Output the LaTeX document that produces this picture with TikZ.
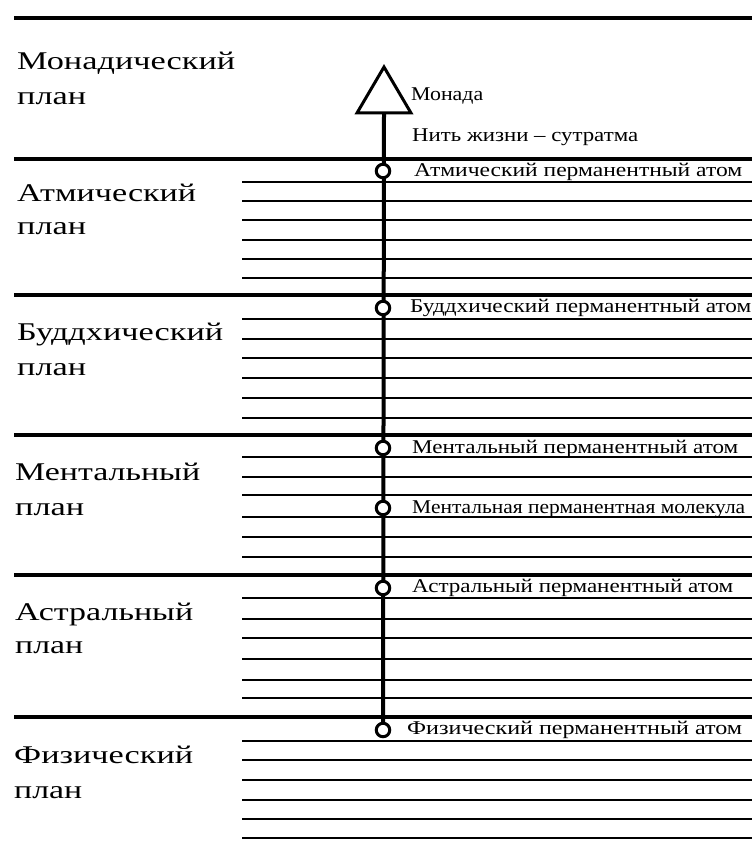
\documentclass[tikz,border=0pt]{standalone}
\usepackage{fontspec}
\setmainfont{Liberation Serif}
\usepackage{graphicx}
\newcommand{\fitw}[2]{\resizebox{#1pt}{\height}{#2}}
\begin{document}
\begin{tikzpicture}[x=1pt,y=-1pt,
  mainline/.style={line width=3.6pt},
  subline/.style={line width=2.7pt},
  thread/.style={line width=4pt},
  atom/.style={circle,draw,fill=white,line width=3pt,minimum size=13.5pt,inner sep=0pt},
  tri/.style={line width=3pt,line join=miter},
  planlabel/.style={anchor=base west,inner sep=0pt,font=\fontsize{25.5}{30}\selectfont},
  smalllabel/.style={anchor=base west,inner sep=0pt,font=\fontsize{19.5}{23}\selectfont}]
\useasboundingbox (0,0) rectangle (752,842);
% main plane lines
\foreach \y in {18,159,295,435,575,717}
  \draw[mainline] (14,\y) -- (752,\y);
% sub-plane lines
\foreach \y in {182,201,220,240,259,278,
                319,339,358,378,398,418,
                457,477,495,517,537,557,
                598,619,638,659,680,698,
                741,760,780,800,819,838}
  \draw[subline] (242,\y) -- (752,\y);
% monad triangle
\draw[tri] (384,67) -- (357,113) -- (411,113) -- cycle;
\coordinate (mon) at (384,113);
% permanent atom positions
\coordinate (p1) at (383,171);
\coordinate (p2) at (383,308);
\coordinate (p3) at (383,448);
\coordinate (p4) at (383,508);
\coordinate (p5) at (383,588);
\coordinate (p6) at (383,730);
% thread of life
\draw[thread] (mon) -- (p6);
\node[atom] (a1) at (p1) {};
\node[atom] (a2) at (p2) {};
\node[atom] (a3) at (p3) {};
\node[atom] (a4) at (p4) {};
\node[atom] (a5) at (p5) {};
\node[atom] (a6) at (p6) {};
% plane labels
\node[planlabel] (l1a) at (17,70)  {\fitw{218}{Монадический}};
\node[planlabel] (l1b) at (17,105) {\fitw{69}{план}};
\node[planlabel] (l2a) at (17,201) {\fitw{179}{Атмический}};
\node[planlabel] (l2b) at (17,235) {\fitw{69}{план}};
\node[planlabel] (l3a) at (17,340) {\fitw{206}{Буддхический}};
\node[planlabel] (l3b) at (17,375) {\fitw{69}{план}};
\node[planlabel] (l4a) at (15,480) {\fitw{185}{Ментальный}};
\node[planlabel] (l4b) at (15,515) {\fitw{69}{план}};
\node[planlabel] (l5a) at (15,620) {\fitw{178}{Астральный}};
\node[planlabel] (l5b) at (15,653) {\fitw{68}{план}};
\node[planlabel] (l6a) at (14,763) {\fitw{179}{Физический}};
\node[planlabel] (l6b) at (14,798) {\fitw{68}{план}};
% small labels
\node[smalllabel] (t0) at (411,101) {\fitw{72}{Монада}};
\node[smalllabel] (t1) at (412,142) {\fitw{226}{Нить жизни – сутратма}};
\node[smalllabel] (s1) at (414,177) {\fitw{328}{Атмический перманентный атом}};
\node[smalllabel] (s2) at (410,312) {\fitw{341}{Буддхический перманентный атом}};
\node[smalllabel] (s3) at (412,453) {\fitw{326}{Ментальный перманентный атом}};
\node[smalllabel] (s4) at (412,513) {\fitw{333}{Ментальная перманентная молекула}};
\node[smalllabel] (s5) at (412,592) {\fitw{321}{Астральный перманентный атом}};
\node[smalllabel] (s6) at (407,734) {\fitw{335}{Физический перманентный атом}};
\end{tikzpicture}
\end{document}
